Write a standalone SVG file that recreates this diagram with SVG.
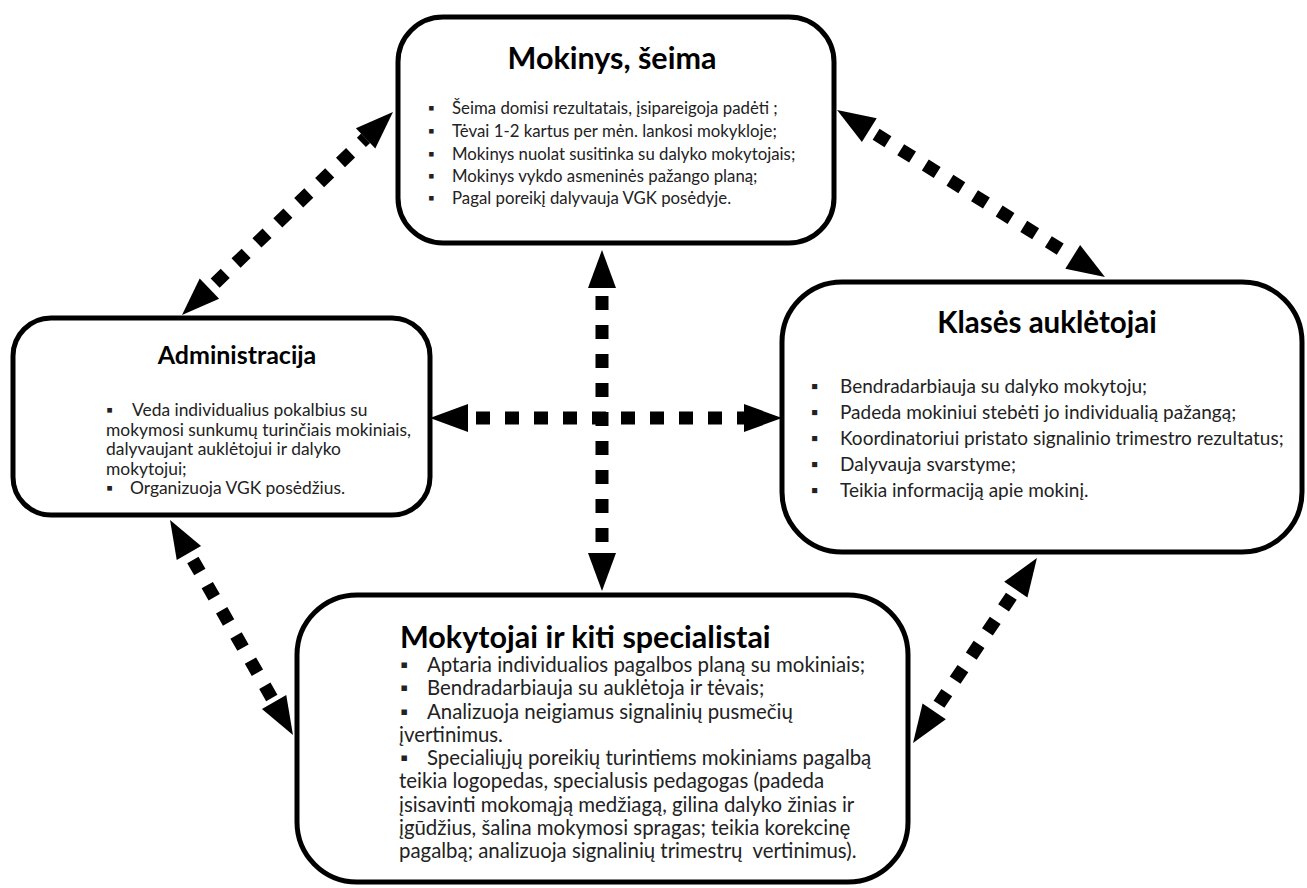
<svg xmlns="http://www.w3.org/2000/svg" width="1307" height="888" viewBox="0 0 1307 888">
<defs>
<style>
.box{fill:#fff;stroke:#000;stroke-width:5}
.title{font-family:Lato,"Liberation Sans",sans-serif;font-weight:bold;fill:#000;text-anchor:middle}
.body{font-family:Lato,"Liberation Sans",sans-serif;fill:#222;white-space:pre}
.conn{fill:none;stroke:#000;stroke-width:13;stroke-dasharray:14 15;stroke-dashoffset:-8;marker-start:url(#head);marker-end:url(#head)}
</style>
<marker id="head" markerUnits="userSpaceOnUse" viewBox="0 -15 40 30" markerWidth="40" markerHeight="30" refX="0" refY="0" orient="auto-start-reverse" overflow="visible">
<path d="M0,-14 L38,0 L0,14 z" fill="#000"/>
</marker>
</defs>
<rect width="1307" height="888" fill="#fff"/>
<g id="connectors">
<line class="conn" x1="209.4" y1="288.7" x2="365.6" y2="138.3"/>
<line class="conn" x1="869.3" y1="130.1" x2="1072.7" y2="256.9"/>
<line class="conn" x1="602" y1="288" x2="602" y2="553"/>
<line class="conn" x1="468" y1="418" x2="744" y2="418"/>
<line class="conn" x1="188.9" y1="553" x2="274.1" y2="702"/>
<line class="conn" x1="1015.8" y1="589.6" x2="934.2" y2="711.4"/>
</g>
<g id="node-mokinys">
<rect class="box" x="398" y="17" width="436" height="226" rx="45" ry="45"/>
<text class="title" x="612" y="69" font-size="30.5">Mokinys, šeima</text>
<g class="body" font-size="16.8">
<text y="114"><tspan x="428">▪</tspan><tspan x="452">Šeima domisi rezultatais, įsipareigoja padėti ;</tspan></text>
<text y="137"><tspan x="428">▪</tspan><tspan x="452">Tėvai 1-2 kartus per mėn. lankosi mokykloje;</tspan></text>
<text y="160"><tspan x="428">▪</tspan><tspan x="452">Mokinys nuolat susitinka su dalyko mokytojais;</tspan></text>
<text y="182"><tspan x="428">▪</tspan><tspan x="452">Mokinys vykdo asmeninės pažango planą;</tspan></text>
<text y="204"><tspan x="428">▪</tspan><tspan x="452">Pagal poreikį dalyvauja VGK posėdyje.</tspan></text>
</g>
</g>
<g id="node-administracija">
<rect class="box" x="13" y="318" width="417" height="197" rx="38" ry="38"/>
<text class="title" x="237" y="364" font-size="25">Administracija</text>
<g class="body" font-size="17.4">
<text y="416"><tspan x="106">▪</tspan><tspan x="132">Veda individualius pokalbius su</tspan></text>
<text y="436" x="106">mokymosi sunkumų turinčiais mokiniais,</text>
<text y="455" x="106">dalyvaujant auklėtojui ir dalyko</text>
<text y="475" x="106">mokytojui;</text>
<text y="494"><tspan x="106">▪</tspan><tspan x="130">Organizuoja VGK posėdžius.</tspan></text>
</g>
</g>
<g id="node-klases">
<rect class="box" x="782" y="282" width="520" height="270" rx="60" ry="60"/>
<text class="title" x="1047" y="333" font-size="29.5">Klasės auklėtojai</text>
<g class="body" font-size="19">
<text y="393"><tspan x="811">▪</tspan><tspan x="840">Bendradarbiauja su dalyko mokytoju;</tspan></text>
<text y="419"><tspan x="811">▪</tspan><tspan x="840">Padeda mokiniui stebėti jo individualią pažangą;</tspan></text>
<text y="445"><tspan x="811">▪</tspan><tspan x="840">Koordinatoriui pristato signalinio trimestro rezultatus;</tspan></text>
<text y="471"><tspan x="811">▪</tspan><tspan x="840">Dalyvauja svarstyme;</tspan></text>
<text y="497"><tspan x="811">▪</tspan><tspan x="840">Teikia informaciją apie mokinį.</tspan></text>
</g>
</g>
<g id="node-mokytojai">
<rect class="box" x="297" y="595" width="611" height="287" rx="60" ry="60"/>
<text class="title" x="400" y="648" font-size="30.5" style="text-anchor:start">Mokytojai ir kiti specialistai</text>
<g class="body" font-size="20.4">
<text y="672"><tspan x="400">▪</tspan><tspan x="427">Aptaria individualios pagalbos planą su mokiniais;</tspan></text>
<text y="695"><tspan x="400">▪</tspan><tspan x="427">Bendradarbiauja su auklėtoja ir tėvais;</tspan></text>
<text y="719"><tspan x="400">▪</tspan><tspan x="427">Analizuoja neigiamus signalinių pusmečių</tspan></text>
<text y="742" x="399">įvertinimus.</text>
<text y="765"><tspan x="400">▪</tspan><tspan x="427">Specialiųjų poreikių turintiems mokiniams pagalbą</tspan></text>
<text y="788" x="399">teikia logopedas, specialusis pedagogas (padeda</text>
<text y="812" x="399">įsisavinti mokomąją medžiagą, gilina dalyko žinias ir</text>
<text y="835" x="399">įgūdžius, šalina mokymosi spragas; teikia korekcinę</text>
<text y="858" x="399" xml:space="preserve">pagalbą; analizuoja signalinių trimestrų  vertinimus).</text>
</g>
</g>
</svg>
